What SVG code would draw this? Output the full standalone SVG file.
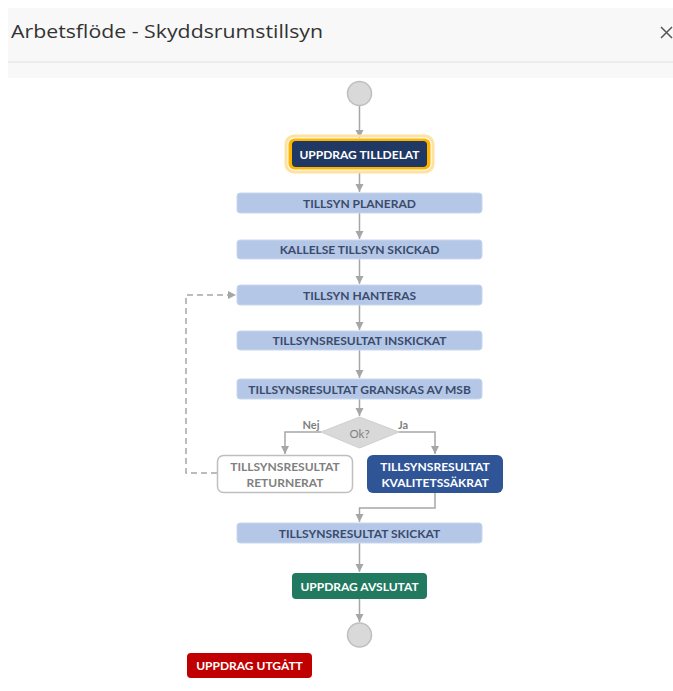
<svg xmlns="http://www.w3.org/2000/svg" width="673" height="691" viewBox="0 0 673 691">
<defs>
<marker id="arr" markerUnits="userSpaceOnUse" markerWidth="9" markerHeight="9" refX="8" refY="4" orient="auto">
<path d="M0,0 L8,4 L0,8 z" fill="#a6a6a6"/>
</marker>
<style>
.t{font-family:Lato,"Liberation Sans",sans-serif;font-weight:bold;font-size:12px;text-anchor:middle;dominant-baseline:central}
.lb{fill:#b4c7e7;stroke:#c9d7ee;stroke-width:1}
.lt{fill:#3b4b6b}
.w{fill:#ffffff}
.c{stroke:#a6a6a6;stroke-width:1.5;fill:none}
.circ{fill:#d9d9d9;stroke:#bfbfbf;stroke-width:1.5}
</style>
</defs>
<rect width="673" height="691" fill="#ffffff"/>
<rect x="8" y="8" width="665" height="70" fill="#f8f8f8"/>
<line x1="8" y1="62" x2="673" y2="62" stroke="#e0e0e0" stroke-width="1"/>
<rect x="11" y="78" width="662" height="613" fill="#ffffff"/>
<text x="11" y="38" font-family="'Open Sans',Lato,sans-serif" font-size="19" fill="#333333" textLength="312" lengthAdjust="spacingAndGlyphs">Arbetsflöde - Skyddsrumstillsyn</text>
<path d="M661,27 L672,38 M672,27 L661,38" stroke="#555555" stroke-width="1.5" fill="none"/>

<g id="connectors">
<path class="c" d="M359.5,105.5 V138" marker-end="url(#arr)"/>
<path class="c" d="M359.5,171 V192" marker-end="url(#arr)"/>
<path class="c" d="M359.5,213 V239" marker-end="url(#arr)"/>
<path class="c" d="M359.5,259 V284" marker-end="url(#arr)"/>
<path class="c" d="M359.5,305 V330" marker-end="url(#arr)"/>
<path class="c" d="M359.5,350 V378" marker-end="url(#arr)"/>
<path class="c" d="M359.5,399 V416" marker-end="url(#arr)"/>
<path class="c" d="M321,432 H285 V454" marker-end="url(#arr)"/>
<path class="c" d="M399,432 H435 V454" marker-end="url(#arr)"/>
<path class="c" d="M217,473 H186 V295 H236" stroke-dasharray="6,4" stroke="#bfbfbf" marker-end="url(#arr)"/>
<path class="c" d="M435,493 V508 H359.5 V522" marker-end="url(#arr)"/>
<path class="c" d="M359.5,543 V572" marker-end="url(#arr)"/>
<path class="c" d="M359.5,599 V622" marker-end="url(#arr)"/>
</g>

<g id="start"><circle class="circ" cx="359.5" cy="93.5" r="12"/></g>

<g id="uppdrag-tilldelat">
<rect x="286" y="136" width="147" height="36" rx="8" fill="none" stroke="#ffe2a0" stroke-width="3"/>
<rect x="288.5" y="138.5" width="142" height="31" rx="6" fill="#ffb400"/>
<rect x="292" y="141" width="135" height="26" rx="4" fill="#203864"/>
<text class="t w" x="359.5" y="154">UPPDRAG TILLDELAT</text>
</g>

<g id="tillsyn-planerad">
<rect class="lb" x="237" y="193" width="245" height="20" rx="3"/>
<text class="t lt" x="359.5" y="203">TILLSYN PLANERAD</text>
</g>

<g id="kallelse">
<rect class="lb" x="237" y="240" width="245" height="19" rx="3"/>
<text class="t lt" x="359.5" y="249.5">KALLELSE TILLSYN SKICKAD</text>
</g>

<g id="tillsyn-hanteras">
<rect class="lb" x="237" y="285" width="245" height="20" rx="3"/>
<text class="t lt" x="359.5" y="295">TILLSYN HANTERAS</text>
</g>

<g id="inskickat">
<rect class="lb" x="237" y="331" width="245" height="19" rx="3"/>
<text class="t lt" x="359.5" y="340.5">TILLSYNSRESULTAT INSKICKAT</text>
</g>

<g id="granskas">
<rect class="lb" x="237" y="379" width="245" height="20" rx="3"/>
<text class="t lt" x="359.5" y="389">TILLSYNSRESULTAT GRANSKAS AV MSB</text>
</g>

<g id="ok">
<polygon points="321,432 359.5,417 399,432 359.5,448" fill="#d9d9d9" stroke="#cfcfcf" stroke-width="1"/>
<text x="359.5" y="433" font-family="Lato,'Liberation Sans',sans-serif" font-size="11.5" fill="#7f7f7f" text-anchor="middle" dominant-baseline="central">Ok?</text>
</g>
<text x="311" y="424" font-family="Lato,'Liberation Sans',sans-serif" font-weight="bold" font-size="11" fill="#7f7f7f" text-anchor="middle" dominant-baseline="central">Nej</text>
<text x="403" y="424" font-family="Lato,'Liberation Sans',sans-serif" font-weight="bold" font-size="11" fill="#7f7f7f" text-anchor="middle" dominant-baseline="central">Ja</text>

<g id="returnerat">
<rect x="217.5" y="455.5" width="135" height="37" rx="6" fill="#ffffff" stroke="#bfbfbf" stroke-width="1.5"/>
<text class="t" x="285" y="466" fill="#808080">TILLSYNSRESULTAT</text>
<text class="t" x="285" y="482" fill="#808080">RETURNERAT</text>
</g>

<g id="kvalitetssakrat">
<rect x="367" y="455" width="136" height="38" rx="6" fill="#2f5597"/>
<text class="t w" x="435" y="466">TILLSYNSRESULTAT</text>
<text class="t w" x="435" y="482">KVALITETSSÄKRAT</text>
</g>

<g id="skickat">
<rect class="lb" x="237" y="523" width="245" height="20" rx="3"/>
<text class="t lt" x="359.5" y="533">TILLSYNSRESULTAT SKICKAT</text>
</g>

<g id="avslutat">
<rect x="292" y="573" width="135" height="26" rx="4" fill="#217a5f"/>
<text class="t w" x="359.5" y="586">UPPDRAG AVSLUTAT</text>
</g>

<g id="end"><circle class="circ" cx="359.5" cy="635" r="12"/></g>

<g id="utgatt">
<rect x="187" y="653" width="125" height="25" rx="4" fill="#c00000"/>
<text class="t w" x="249.5" y="665.5">UPPDRAG UTGÅTT</text>
</g>
</svg>
